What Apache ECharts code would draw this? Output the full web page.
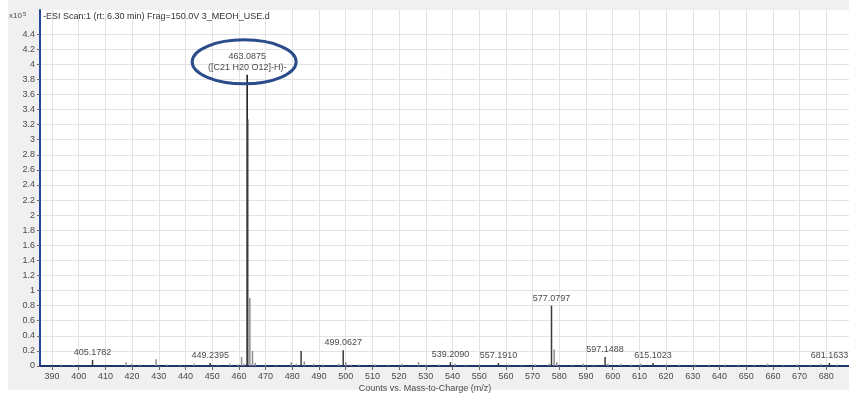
<!DOCTYPE html>
<html>
<head>
<meta charset="utf-8">
<script src="https://cdn.jsdelivr.net/npm/echarts@6/dist/echarts.min.js"></script>
<style>
  html, body { margin: 0; padding: 0; background: #ffffff; }
  #panel { position: absolute; left: 8px; top: 0; width: 841px; height: 390px; background: #f0f0f0; }
  #chart { position: absolute; left: 0; top: 0; width: 849px; height: 394px; }
</style>
</head>
<body>
<div id="panel"></div>
<div id="chart"></div>
<script>
// ESI negative-mode mass spectrum, counts in units of 10^5
const titleText = '-ESI Scan:1 (rt: 6.30 min) Frag=150.0V 3_MEOH_USE.d';
const xAxisTitle = 'Counts vs. Mass-to-Charge (m/z)';
const mainFormula = '([C21 H20 O12]-H)-';

const mzTicks = [390, 400, 410, 420, 430, 440, 450, 460, 470, 480, 490, 500, 510, 520, 530,
  540, 550, 560, 570, 580, 590, 600, 610, 620, 630, 640, 650, 660, 670, 680];
const countTicks = [0, 0.2, 0.4, 0.6, 0.8, 1, 1.2, 1.4, 1.6, 1.8, 2, 2.2, 2.4, 2.6, 2.8,
  3, 3.2, 3.4, 3.6, 3.8, 4, 4.2, 4.4];

// centroid peaks: m/z and abundance (x10^5)
const peakMz = [
  463.0875, 463.30, 464.09, 465.09, 466.10, 461.00, 462.00, 459.50,
  483.30, 479.60, 484.50, 481.50,
  499.0627, 500.07, 497.50, 502.00,
  577.0797, 578.08, 579.08, 576.20,
  597.1488, 598.15,
  405.1782, 393.50, 398.00, 417.70, 419.80, 423.00, 429.00, 433.00, 437.80, 443.20,
  449.2395, 452.00, 456.60, 470.00, 474.00, 488.00, 491.50, 505.00, 511.00, 516.00,
  521.00, 527.30, 530.00, 535.00, 539.2090, 541.00, 545.00, 550.00, 557.1910, 561.00,
  566.00, 571.00, 585.00, 589.00, 593.00, 603.00, 607.00, 610.50, 615.1023, 620.00,
  625.00, 631.00, 636.00, 642.00, 647.00, 653.00, 658.00, 664.00, 669.00, 674.00,
  678.00, 681.1633, 684.00
];
const peakCounts = [
  3.86, 3.27, 0.90, 0.20, 0.04, 0.12, 0.03, 0.02,
  0.20, 0.05, 0.06, 0.03,
  0.21, 0.05, 0.03, 0.02,
  0.80, 0.22, 0.05, 0.03,
  0.12, 0.03,
  0.08, 0.02, 0.01, 0.05, 0.03, 0.02, 0.09, 0.02, 0.02, 0.03,
  0.04, 0.02, 0.03, 0.02, 0.02, 0.03, 0.02, 0.02, 0.02, 0.02,
  0.03, 0.05, 0.02, 0.02, 0.05, 0.03, 0.02, 0.02, 0.04, 0.02,
  0.02, 0.02, 0.02, 0.03, 0.02, 0.03, 0.02, 0.03, 0.04, 0.02,
  0.02, 0.02, 0.02, 0.02, 0.02, 0.02, 0.03, 0.02, 0.02, 0.02,
  0.03, 0.04, 0.02
];
// peaks annotated with their m/z
const labeledMz = [405.1782, 449.2395, 463.0875, 499.0627, 539.2090, 557.1910,
  577.0797, 597.1488, 615.1023, 681.1633];
const basePeakMz = 463.0875;
const darkPeakMz = [463.30, 483.30];

const FONT = "'Liberation Sans', Arial, sans-serif";
const TXT = '#4a4a4a';

const barData = peakMz.map((mz, i) => {
  const isLabeled = labeledMz.indexOf(mz) >= 0;
  const isBase = mz === basePeakMz;
  const dark = isLabeled || darkPeakMz.indexOf(mz) >= 0;
  const item = {
    value: [mz, peakCounts[i]],
    itemStyle: { color: isBase ? '#111111' : (dark ? '#3a3a3a' : '#8e8e8e') }
  };
  if (isLabeled) {
    item.label = {
      show: true,
      position: 'top',
      distance: 2,
      fontFamily: FONT,
      fontSize: 9,
      color: TXT,
      lineHeight: 11,
      formatter: isBase ? (mz.toFixed(4) + '\n' + mainFormula) : mz.toFixed(4)
    };
  }
  return item;
});

const chart = echarts.init(document.getElementById('chart'), null, { renderer: 'canvas' });

const option = {
  animation: false,
  backgroundColor: 'transparent',
  grid: { left: 40, right: 0, top: 10, bottom: 28, show: true, backgroundColor: '#ffffff', borderWidth: 0 },
  xAxis: {
    type: 'value',
    min: 385.5,
    max: 688.5,
    axisLine: { show: true, lineStyle: { color: '#1c3466', width: 2 } },
    axisTick: { show: true, customValues: mzTicks, length: 4, lineStyle: { color: '#666' } },
    axisLabel: { customValues: mzTicks, fontFamily: FONT, fontSize: 9, color: TXT, margin: 6 },
    splitLine: { show: true, lineStyle: { color: '#e3e3e3', width: 1 } }
  },
  yAxis: {
    type: 'value',
    min: 0,
    max: 4.72,
    axisLine: { show: true, onZero: false, lineStyle: { color: '#2447a0', width: 2 } },
    axisTick: { show: true, customValues: countTicks, length: 3, lineStyle: { color: '#666' } },
    axisLabel: { customValues: countTicks, fontFamily: FONT, fontSize: 9, color: TXT, margin: 5 },
    splitLine: { show: true, lineStyle: { color: '#e3e3e3', width: 1 } }
  },
  series: [{
    type: 'bar',
    barWidth: 1.5,
    data: barData,
    z: 3
  }],
  graphic: [
    {
      type: 'text', left: 9, top: 11,
      style: {
        text: '{b|x10}{s|5}',
        rich: {
          b: { fontFamily: FONT, fontSize: 8, fill: TXT },
          s: { fontFamily: FONT, fontSize: 6, fill: TXT, verticalAlign: 'top', padding: [0, 0, 4, 1] }
        }
      }
    },
    {
      type: 'text', left: 43, top: 12,
      style: { text: titleText, fontFamily: FONT, fontSize: 9, fill: '#333' }, z: 10
    },
    {
      type: 'text', x: 425, y: 389,
      style: { text: xAxisTitle, fontFamily: FONT, fontSize: 9, fill: TXT, align: 'center', verticalAlign: 'middle' }
    }
  ]
};

chart.setOption(option);

// blue ring around the base-peak annotation, placed from the peak's own position
const basePx = chart.convertToPixel({ gridIndex: 0 }, [basePeakMz, peakCounts[peakMz.indexOf(basePeakMz)]]);
chart.setOption({
  graphic: [{
    id: 'ring',
    type: 'ellipse',
    shape: { cx: basePx[0] - 3, cy: basePx[1] - 13, rx: 52, ry: 22 },
    style: { fill: 'none', stroke: '#2b4c8a', lineWidth: 3 },
    z: 20
  }]
});
</script>
</body>
</html>
